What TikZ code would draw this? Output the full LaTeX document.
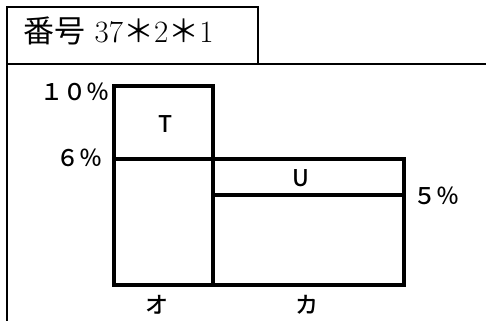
\documentclass[tikz,border=0pt]{standalone}
\usepackage{fontspec}
\usepackage{tikz}
\newfontfamily\cjk{Noto Sans CJK JP}
\newfontfamily\cjkmed{Noto Sans CJK JP Medium}

\tikzset{
    frame/.style={line width=1.6pt},
    bar/.style={line width=3.4pt},
    split/.style={line width=3.2pt},
    pct/.style={font=\cjkmed\fontsize{23}{23}\selectfont, inner sep=0pt},
}

\begin{document}
\begin{tikzpicture}[x=1pt, y=-1pt]
    \useasboundingbox (0,0) rectangle (486,321);
    % header and frame
    \draw[frame] (7,7) rectangle (258,64);
    \draw[frame] (258,64) -- (486,64);
    \draw[frame] (7,64) -- (7,321);
    \node[anchor=west, inner sep=0pt] (title) at (23,31)
        {\fontsize{31}{31}\selectfont{\cjk 番号}\ 37{\cjk ＊}2{\cjk ＊}1};
    % boxes
    \draw[bar] (114,86) rectangle (213,285);
    \draw[bar] (213,159) rectangle (404,285);
    \draw[split] (114,159) -- (213,159);
    \draw[split] (213,195) -- (404,195);
    % percentages
    \node[pct, anchor=east] (p10) at (110,92) {１０％};
    \node[pct, anchor=east] (p6) at (103,158) {６％};
    \node[pct, anchor=west] (p5) at (413,196) {５％};
    % names
    \foreach \x/\y/\name/\txt in {166/124/t/T, 301/178/u/U, 157/305/o/オ, 307/305/ka/カ}
    {
        \node[pct] (\name) at (\x,\y) {\txt};
    }
\end{tikzpicture}
\end{document}
